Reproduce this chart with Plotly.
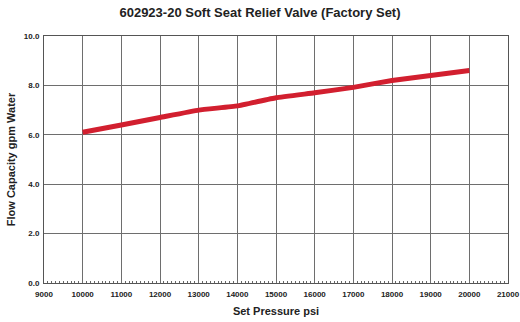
import plotly.graph_objects as go

pressure = [10000, 11000, 12000, 13000, 14000, 15000, 16000, 17000, 18000, 19000, 20000]
flow = [6.1, 6.4, 6.7, 7.0, 7.17, 7.5, 7.7, 7.92, 8.2, 8.4, 8.6]

fig = go.Figure()
fig.add_trace(go.Scatter(x=pressure, y=flow, mode="lines",
                         line=dict(color="#d21f2f", width=5, shape="spline", smoothing=0.3),
                         showlegend=False))

fnt = "Liberation Sans, Arial, sans-serif"
fig.update_layout(
    width=520, height=322,
    margin=dict(l=44, r=12, t=36, b=39),
    paper_bgcolor="white", plot_bgcolor="white",
    title=dict(text="<b>602923-20 Soft Seat Relief Valve (Factory Set)</b>", x=0.5, xanchor="center",
               y=0.962, yanchor="middle", font=dict(family=fnt, size=13, color="#222")),
    font=dict(family=fnt, color="#222"),
)
fig.update_xaxes(range=[9000, 21000], dtick=1000, tick0=9000, showgrid=True, gridcolor="#6e6e6e", gridwidth=1,
                 showline=True, linecolor="#555", linewidth=1, mirror=True, zeroline=False, automargin=False,
                 tickfont=dict(family=fnt, size=8, color="#222", weight="bold"), tickformat="d",
                 ticks="", ticklabelstandoff=3,
                 minor=dict(dtick=100, ticks="inside", ticklen=2, tickcolor="#666", showgrid=False),
                 title=dict(text="<b>Set Pressure psi</b>", font=dict(family=fnt, size=11, color="#222"), standoff=9))
fig.update_yaxes(range=[0, 10], dtick=2, showgrid=True, gridcolor="#6e6e6e", gridwidth=1,
                 showline=True, linecolor="#555", linewidth=1, mirror=True, zeroline=False, automargin=False,
                 tickfont=dict(family=fnt, size=8, color="#222", weight="bold"), tickformat=".1f", ticks="",
                 ticklabelstandoff=2,
                 title=dict(text="<b>Flow Capacity gpm Water</b>", font=dict(family=fnt, size=11, color="#222"), standoff=5))

fig.write_html("out.html")
